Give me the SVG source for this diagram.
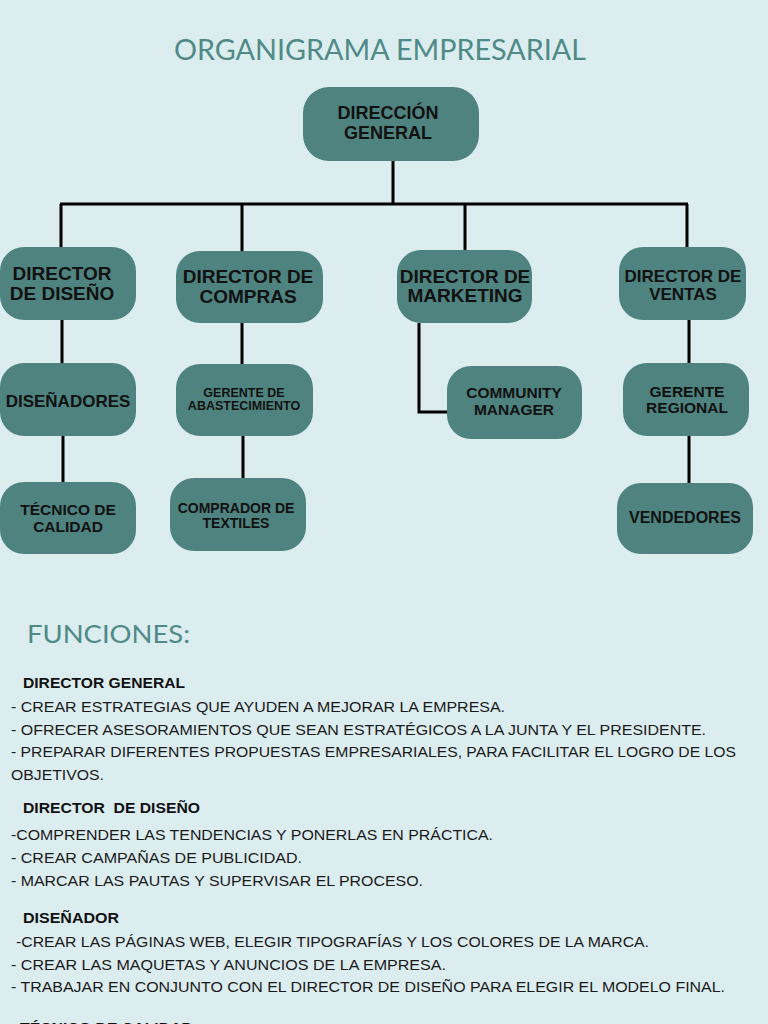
<svg xmlns="http://www.w3.org/2000/svg" width="768" height="1024" viewBox="0 0 768 1024">
<style>
.node{fill:#4E8380;}
.nl{font-family:"Liberation Sans",Arial,sans-serif;font-weight:bold;fill:#111;text-anchor:middle;}
.conn{fill:none;stroke:#000;stroke-width:3;}
.title{font-family:Lato,"Open Sans","Liberation Sans",sans-serif;font-weight:400;fill:#4F8A86;}
.h{font-family:"Liberation Sans",Arial,sans-serif;font-weight:bold;font-size:15.5px;fill:#111;}
.b{font-family:"Liberation Sans",Arial,sans-serif;font-size:15.5px;fill:#1a1a1a;}
</style>
<rect x="0" y="0" width="768" height="1024" fill="#DCEDF0"/>
<text class="title" x="174" y="60" font-size="28" textLength="412" lengthAdjust="spacingAndGlyphs">ORGANIGRAMA EMPRESARIAL</text>

<g id="connectors">
<path class="conn" d="M393 161 V204 M60 204 H688 M61 204 V248 M242 204 V251 M465 204 V251 M687 204 V248"/>
<path class="conn" d="M62 320 V363 M63 435 V482"/>
<path class="conn" d="M242 323 V364 M243 435 V479"/>
<path class="conn" d="M419 323 V412 H448"/>
<path class="conn" d="M689 320 V364 M689 435 V483"/>
</g>

<g id="n-general">
<rect class="node" x="303" y="87" width="176" height="74" rx="26"/>
<text class="nl" x="388" y="119" font-size="18">DIRECCIÓN</text>
<text class="nl" x="388" y="139" font-size="18">GENERAL</text>
</g>
<g id="n-diseno">
<rect class="node" x="0" y="247" width="136" height="73" rx="24"/>
<text class="nl" x="62" y="280" font-size="19">DIRECTOR</text>
<text class="nl" x="62" y="300" font-size="19">DE DISEÑO</text>
</g>
<g id="n-compras">
<rect class="node" x="176" y="251" width="147" height="72" rx="24"/>
<text class="nl" x="248" y="283" font-size="19">DIRECTOR DE</text>
<text class="nl" x="248" y="303" font-size="19">COMPRAS</text>
</g>
<g id="n-marketing">
<rect class="node" x="397" y="250" width="135" height="73" rx="24"/>
<text class="nl" x="465" y="283" font-size="19">DIRECTOR DE</text>
<text class="nl" x="465" y="302" font-size="19">MARKETING</text>
</g>
<g id="n-ventas">
<rect class="node" x="619" y="247" width="127" height="73" rx="24"/>
<text class="nl" x="683" y="282" font-size="17">DIRECTOR DE</text>
<text class="nl" x="683" y="300" font-size="17">VENTAS</text>
</g>
<g id="n-disenadores">
<rect class="node" x="0" y="363" width="136" height="73" rx="24"/>
<text class="nl" x="68" y="407" font-size="17">DISEÑADORES</text>
</g>
<g id="n-abastecimiento">
<rect class="node" x="176" y="364" width="137" height="72" rx="24"/>
<text class="nl" x="244" y="397" font-size="12.5">GERENTE DE</text>
<text class="nl" x="244" y="410" font-size="12.5">ABASTECIMIENTO</text>
</g>
<g id="n-community">
<rect class="node" x="447" y="366" width="135" height="73" rx="24"/>
<text class="nl" x="514" y="398" font-size="15.5">COMMUNITY</text>
<text class="nl" x="514" y="415" font-size="15.5">MANAGER</text>
</g>
<g id="n-regional">
<rect class="node" x="623" y="363" width="126" height="73" rx="24"/>
<text class="nl" x="687" y="397" font-size="15.5">GERENTE</text>
<text class="nl" x="687" y="413" font-size="15.5">REGIONAL</text>
</g>
<g id="n-tecnico">
<rect class="node" x="0" y="482" width="136" height="72" rx="24"/>
<text class="nl" x="68" y="515" font-size="15.5">TÉCNICO DE</text>
<text class="nl" x="68" y="532" font-size="15.5">CALIDAD</text>
</g>
<g id="n-comprador">
<rect class="node" x="170" y="478" width="136" height="73" rx="24"/>
<text class="nl" x="236" y="513" font-size="14">COMPRADOR DE</text>
<text class="nl" x="236" y="528" font-size="14">TEXTILES</text>
</g>
<g id="n-vendedores">
<rect class="node" x="617" y="483" width="136" height="71" rx="24"/>
<text class="nl" x="685" y="523" font-size="16">VENDEDORES</text>
</g>

<text class="title" x="27" y="643" font-size="25" textLength="163" lengthAdjust="spacingAndGlyphs">FUNCIONES:</text>

<text class="h" x="23" y="688" textLength="162" lengthAdjust="spacingAndGlyphs">DIRECTOR GENERAL</text>
<text class="b" x="11" y="712" textLength="494" lengthAdjust="spacingAndGlyphs">- CREAR ESTRATEGIAS QUE AYUDEN A MEJORAR LA EMPRESA.</text>
<text class="b" x="11" y="735" textLength="695" lengthAdjust="spacingAndGlyphs">- OFRECER ASESORAMIENTOS QUE SEAN ESTRATÉGICOS A LA JUNTA Y EL PRESIDENTE.</text>
<text class="b" x="11" y="757" textLength="725" lengthAdjust="spacingAndGlyphs">- PREPARAR DIFERENTES PROPUESTAS EMPRESARIALES, PARA FACILITAR EL LOGRO DE LOS</text>
<text class="b" x="11" y="780" textLength="93" lengthAdjust="spacingAndGlyphs">OBJETIVOS.</text>

<text class="h" x="23" y="813" textLength="177" lengthAdjust="spacingAndGlyphs" style="white-space:pre">DIRECTOR  DE DISEÑO</text>
<text class="b" x="11" y="840" textLength="482" lengthAdjust="spacingAndGlyphs">-COMPRENDER LAS TENDENCIAS Y PONERLAS EN PRÁCTICA.</text>
<text class="b" x="11" y="863" textLength="291" lengthAdjust="spacingAndGlyphs">- CREAR CAMPAÑAS DE PUBLICIDAD.</text>
<text class="b" x="11" y="886" textLength="412" lengthAdjust="spacingAndGlyphs">- MARCAR LAS PAUTAS Y SUPERVISAR EL PROCESO.</text>

<text class="h" x="23" y="923" textLength="96" lengthAdjust="spacingAndGlyphs">DISEÑADOR</text>
<text class="b" x="16" y="947" textLength="633" lengthAdjust="spacingAndGlyphs">-CREAR LAS PÁGINAS WEB, ELEGIR TIPOGRAFÍAS Y LOS COLORES DE LA MARCA.</text>
<text class="b" x="11" y="970" textLength="435" lengthAdjust="spacingAndGlyphs">- CREAR LAS MAQUETAS Y ANUNCIOS DE LA EMPRESA.</text>
<text class="b" x="11" y="992" textLength="714" lengthAdjust="spacingAndGlyphs">- TRABAJAR EN CONJUNTO CON EL DIRECTOR DE DISEÑO PARA ELEGIR EL MODELO FINAL.</text>

<text class="h" x="20" y="1033" textLength="173" lengthAdjust="spacingAndGlyphs">TÉCNICO DE CALIDAD</text>
</svg>
